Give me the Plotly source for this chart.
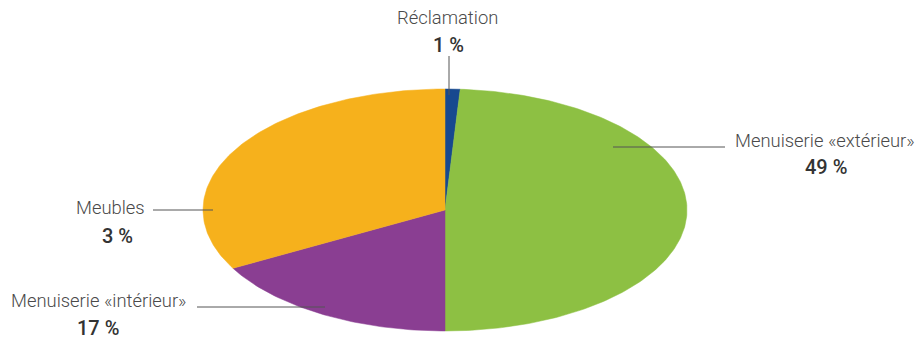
import numpy as np
import plotly.graph_objects as go

# Slice data, clockwise from 12 o'clock
categories = ["Réclamation", "Menuiserie «extérieur»", "Menuiserie «intérieur»", "Meubles"]
shares = [1, 49, 17, 33]
share_labels = ["1 %", "49 %", "17 %", "3 %"]
colors = ["#17498F", "#8DC043", "#8A3E92", "#F6B11C"]

# Ellipse geometry (pixel coordinates of the plotting area)
CX, CY, RX, RY = 445, 210, 242, 121

fig = go.Figure()

total = sum(shares)
start = 0.0
for cat, val, col in zip(categories, shares, colors):
    end = start + val / total * 2 * np.pi
    t = np.linspace(start, end, max(8, int(val * 4)))
    xs = np.concatenate([[CX], CX + RX * np.sin(t), [CX]])
    ys = np.concatenate([[CY], CY - RY * np.cos(t), [CY]])
    fig.add_trace(go.Scatter(
        x=xs, y=ys, mode="lines", fill="toself", fillcolor=col,
        line=dict(color=col, width=0.5), hoverinfo="text", text=cat,
        showlegend=False,
    ))
    start = end

# Label placement: (name x, name y, value x, value y) and leader line
label_pos = [
    (447, 17, 448, 45),
    (825, 140, 826, 167),
    (98, 300, 98, 328),
    (110, 207, 117, 236),
]
leaders = [
    (449, 56, 449, 95),
    (613, 147, 725, 147),
    (197, 307, 325, 307),
    (153, 210, 213, 210),
]

for cat, lab, (nx, ny, vx, vy), (x0, y0, x1, y1) in zip(categories, share_labels, label_pos, leaders):
    fig.add_annotation(x=nx, y=ny, text=cat, showarrow=False,
                       font=dict(family="Roboto", size=18.4, color="#4a4a4a", weight=300),
                       xanchor="center", yanchor="middle")
    fig.add_annotation(x=vx, y=vy, text=lab, showarrow=False,
                       font=dict(family="Roboto", size=20, color="#333333", weight=500),
                       xanchor="center", yanchor="middle")
    fig.add_shape(type="line", x0=x0, y0=y0, x1=x1, y1=y1,
                  line=dict(color="#555555", width=1))

fig.update_layout(
    width=921, height=347,
    margin=dict(l=0, r=0, t=0, b=0),
    paper_bgcolor="white", plot_bgcolor="white",
    xaxis=dict(range=[0, 921], visible=False, fixedrange=True),
    yaxis=dict(range=[347, 0], visible=False, fixedrange=True),
    showlegend=False,
)

fig.write_html("out.html")
